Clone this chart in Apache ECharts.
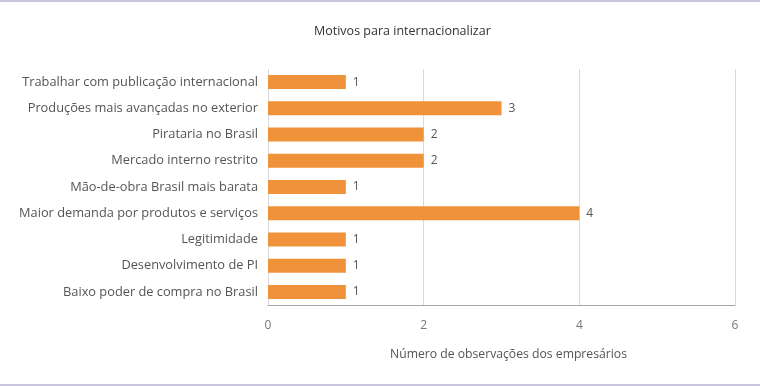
<!DOCTYPE html>
<html><head><meta charset="utf-8">
<script src="https://cdn.jsdelivr.net/npm/echarts@6/dist/echarts.min.js"></script>
<style>
html,body{margin:0;padding:0;background:#fff;}
#c{width:760px;height:386px;box-sizing:border-box;border-top:2px solid #c9c5de;border-bottom:2px solid #c9c5de;}
</style></head><body>
<div id="c"></div>
<script>
const categories = [
  "Trabalhar com publicação internacional",
  "Produções mais avançadas no exterior",
  "Pirataria no Brasil",
  "Mercado interno restrito",
  "Mão-de-obra Brasil mais barata",
  "Maior demanda por produtos e serviços",
  "Legitimidade",
  "Desenvolvimento de PI",
  "Baixo poder de compra no Brasil"
];
const values = [1, 3, 2, 2, 1, 4, 1, 1, 1];
const xTicks = [0, 2, 4, 6];
const titleText = "Motivos para internacionalizar";
const xName = "Número de observações dos empresários";

const chart = echarts.init(document.getElementById('c'), null, {renderer: 'canvas'});
const font = "'Open Sans', sans-serif";
chart.setOption({
  animation: false,
  title: {text: titleText, left: 309, top: 18,
    textStyle: {fontFamily: font, fontSize: 12.5, fontWeight: 'normal', color: '#333'}},
  grid: {left: 268, right: 25, top: 67, bottom: 79},
  xAxis: {
    type: 'value', min: xTicks[0], max: xTicks[xTicks.length-1], interval: 2,
    name: xName, nameLocation: 'middle', nameGap: 44,
    nameTextStyle: {fontFamily: font, fontSize: 12.2, color: '#555', padding: [0, 0, 0, 14]},
    axisLine: {show: true, lineStyle: {color: '#a6a6a6', width: 1}},
    axisTick: {show: false},
    axisLabel: {fontFamily: font, fontSize: 12, color: '#777', margin: 15},
    splitLine: {show: true, lineStyle: {color: '#d9d9d9', width: 1}}
  },
  yAxis: {
    type: 'category', data: categories, inverse: true,
    axisLine: {show: false}, axisTick: {show: false},
    axisLabel: {fontFamily: font, fontSize: 12.8, color: '#555', margin: 10}
  },
  series: [{
    type: 'bar', data: values, barWidth: 14,
    itemStyle: {color: '#f0923a'},
    label: {show: true, position: 'right', distance: 7, fontFamily: font, fontSize: 12, color: '#555'}
  }]
});
</script></body></html>
